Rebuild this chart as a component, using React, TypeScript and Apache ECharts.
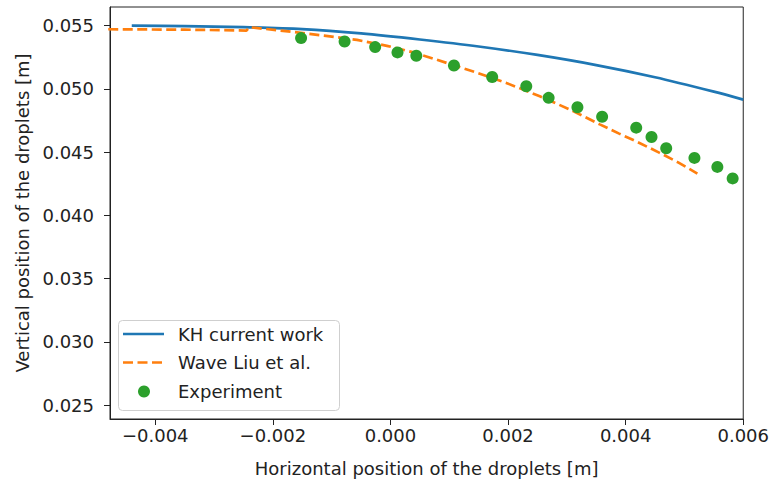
import React, { useEffect, useRef } from "react";
import * as echarts from "echarts";

// KH model trajectory (current work)
const khX = [-0.0044, -0.0035, -0.0025, -0.0015, -0.0005, 0.0005, 0.0015, 0.0025, 0.0035, 0.0045, 0.0055, 0.006];
const khY = [0.055, 0.05496, 0.05488, 0.05472, 0.05438, 0.0539, 0.05335, 0.05268, 0.05188, 0.05092, 0.04978, 0.04915];

// Wave model trajectory (Liu et al.)
const waveX = [-0.0048, -0.0035, -0.00245, -0.0024, -0.00187, -0.00113, -0.00057, -0.00006, 0.00039, 0.00079, 0.00152, 0.00197, 0.00254, 0.00305, 0.00356, 0.00389, 0.00417, 0.00457, 0.0049, 0.00522];
const waveY = [0.05471, 0.05468, 0.05461, 0.05487, 0.05461, 0.05421, 0.05387, 0.0534, 0.05288, 0.0523, 0.0512, 0.05047, 0.04941, 0.04837, 0.04719, 0.04646, 0.04587, 0.04496, 0.04417, 0.0433];

// Measured droplet positions
const expX = [-0.00152, -0.00078, -0.00026, 0.00012, 0.00044, 0.00108, 0.00173, 0.00231, 0.00269, 0.00318, 0.0036, 0.00418, 0.00444, 0.00469, 0.00517, 0.00556, 0.00582];
const expY = [0.05401, 0.05374, 0.0533, 0.05288, 0.05262, 0.05185, 0.05094, 0.0502, 0.04929, 0.04855, 0.04779, 0.04693, 0.04619, 0.0453, 0.04454, 0.04383, 0.04292];

const xTicks = [-0.004, -0.002, 0, 0.002, 0.004, 0.006];
const yTicks = [0.025, 0.03, 0.035, 0.04, 0.045, 0.05, 0.055];

const seriesNames = ["KH current work", "Wave Liu et al.", "Experiment"];
const colors = ["#1f77b4", "#ff7f0e", "#2ca02c"];

const FONT = '"DejaVu Sans", sans-serif';
const TEXT = "#222";

const fmt = (v: number) => (v < 0 ? "\u2212" : "") + Math.abs(v).toFixed(3);
const pairs = (xs: number[], ys: number[]) => xs.map((x, i) => [x, ys[i]]);

export default function App() {
  const ref = useRef<HTMLDivElement>(null);

  useEffect(() => {
    if (!ref.current) return;
    const chart = echarts.init(ref.current, undefined, { renderer: "svg" });

    const axisCommon = {
      type: "value" as const,
      splitLine: { show: false },
      axisLine: { show: true, onZero: false, lineStyle: { color: TEXT, width: 1 } },
      axisTick: { show: true, length: 6, lineStyle: { color: TEXT, width: 1 } },
      nameLocation: "middle" as const,
      nameTextStyle: { fontSize: 18, fontFamily: FONT, color: TEXT },
    };

    // legend box drawn with graphic elements
    const lgX = 118.5;
    const lgY = 320.5;
    const rowY = [334, 362.5, 391.5];
    const legend: any[] = [
      {
        type: "rect",
        shape: { x: lgX, y: lgY, width: 221, height: 90, r: 4 },
        style: { fill: "rgba(255,255,255,0.8)", stroke: "#cfcfcf", lineWidth: 1 },
        z: 100,
      },
      {
        type: "line",
        shape: { x1: 123, y1: rowY[0], x2: 164, y2: rowY[0] },
        style: { stroke: colors[0], lineWidth: 2.7 },
        z: 101,
      },
      {
        type: "line",
        shape: { x1: 123, y1: rowY[1], x2: 164, y2: rowY[1] },
        style: { stroke: colors[1], lineWidth: 2.7, lineDash: [10, 4.5] },
        z: 101,
      },
      {
        type: "circle",
        shape: { cx: 144, cy: rowY[2], r: 6 },
        style: { fill: colors[2] },
        z: 101,
      },
      ...seriesNames.map((name, i) => ({
        type: "text",
        x: 178,
        y: rowY[i],
        style: {
          text: name,
          fill: TEXT,
          fontSize: 18,
          fontFamily: FONT,
          verticalAlign: "middle",
          textVerticalAlign: "middle",
        },
        z: 101,
      })),
    ];

    chart.setOption({
      animation: false,
      backgroundColor: "#fff",
      grid: {
        left: 110,
        right: 27,
        top: 7,
        bottom: 61,
        show: true,
        borderColor: TEXT,
        borderWidth: 1,
        backgroundColor: "transparent",
      },
      xAxis: {
        ...axisCommon,
        min: -0.00477,
        max: 0.006,
        name: "Horizontal position of the droplets [m]",
        nameGap: 40,
        axisTick: { ...axisCommon.axisTick, customValues: xTicks },
        axisLabel: {
          customValues: xTicks,
          formatter: fmt,
          fontSize: 18,
          fontFamily: FONT,
          color: TEXT,
          margin: 7,
        },
      },
      yAxis: {
        ...axisCommon,
        min: 0.0239,
        max: 0.05647,
        name: "Vertical position of the droplets [m]",
        nameGap: 78,
        axisTick: { ...axisCommon.axisTick, customValues: yTicks },
        axisLabel: {
          customValues: yTicks,
          formatter: fmt,
          fontSize: 18,
          fontFamily: FONT,
          color: TEXT,
          margin: 16,
        },
      },
      series: [
        {
          name: seriesNames[0],
          type: "line",
          data: pairs(khX, khY),
          smooth: 0.3,
          showSymbol: false,
          symbol: "none",
          lineStyle: { color: colors[0], width: 2.7 },
          z: 2,
        },
        {
          name: seriesNames[1],
          type: "line",
          data: pairs(waveX, waveY),
          showSymbol: false,
          symbol: "none",
          lineStyle: { color: colors[1], width: 2.7, type: [10, 4.5] },
          z: 3,
        },
        {
          name: seriesNames[2],
          type: "scatter",
          data: pairs(expX, expY),
          symbol: "circle",
          symbolSize: 12,
          itemStyle: { color: colors[2], opacity: 1 },
          z: 4,
        },
      ],
      graphic: legend,
    });

    return () => chart.dispose();
  }, []);

  return (
    <div
      ref={ref}
      style={{ position: "absolute", left: 0, top: 0, width: 772, height: 482 }}
    />
  );
}
